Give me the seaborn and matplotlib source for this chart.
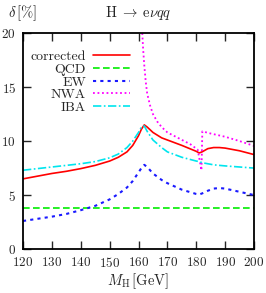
import seaborn as sns
import matplotlib.pyplot as plt

# valores
mh = [120, 125, 130, 135, 140, 145, 150, 153, 156, 158, 160, 161, 162, 163,
      165, 168, 170, 175, 180, 181, 182, 184, 186, 188, 190, 195, 200]
corrected = [6.5, 6.75, 7.0, 7.2, 7.45, 7.75, 8.15, 8.5, 9.0, 9.6, 10.5, 11.1, 11.5, 11.3,
             10.8, 10.3, 10.1, 9.6, 9.05, 8.9, 9.0, 9.3, 9.4, 9.4, 9.35, 9.1, 8.75]
qcd = [3.8] * len(mh)
ew = [2.6, 2.8, 3.0, 3.25, 3.6, 4.0, 4.6, 5.1, 5.7, 6.3, 7.1, 7.5, 7.8, 7.6,
      7.0, 6.4, 6.1, 5.5, 5.1, 5.05, 5.15, 5.4, 5.6, 5.65, 5.6, 5.3, 5.0]
iba = [7.3, 7.45, 7.6, 7.75, 7.9, 8.1, 8.45, 8.8, 9.4, 10.0, 10.8, 11.3, 11.4, 10.9,
       10.1, 9.4, 9.0, 8.5, 8.15, 8.1, 8.0, 7.9, 7.8, 7.75, 7.7, 7.6, 7.5]

mh_nwa = [161.3, 161.6, 162.0, 162.5, 163.0, 164.0, 165.0, 166.5, 168.0, 170.0,
          174.0, 178.0, 180.5, 181.8, 182.1, 185.0, 190.0, 195.0, 200.0]
nwa = [20.0, 18.5, 17.0, 15.5, 14.4, 13.3, 12.5, 11.8, 11.3, 10.8,
       10.25, 9.7, 9.2, 7.3, 10.9, 10.7, 10.4, 10.0, 9.55]

sns.set_style('ticks')
plt.rcParams['font.family'] = ['cmr10', 'DejaVu Serif']
plt.rcParams['mathtext.fontset'] = 'cm'
plt.rcParams['axes.formatter.use_mathtext'] = True

fig = plt.figure(figsize=(2.66, 2.93), dpi=100)
ax = fig.add_axes([0.0865, 0.150, 0.8685, 0.737])

sns.lineplot(x=mh, y=corrected, color='red', lw=1.2, label='corrected', ax=ax)
sns.lineplot(x=mh, y=qcd, color='#00ee00', lw=1.2, linestyle=(0, (4, 2)), label='QCD', ax=ax)
sns.lineplot(x=mh, y=ew, color='#1a1aff', lw=1.5, linestyle=(0, (1.5, 2)), label='EW', ax=ax)
sns.lineplot(x=mh_nwa, y=nwa, color='#ff00ff', lw=1.3, linestyle=(0, (1, 1.5)), label='NWA',
             sort=False, ax=ax)
sns.lineplot(x=mh, y=iba, color='#00e5ee', lw=1.2, linestyle=(0, (5, 1.5, 1, 1.5)), label='IBA', ax=ax)

ax.set_xlim(120, 200)
ax.set_ylim(0, 20)
ax.set_xticks(range(120, 201, 10))
ax.set_yticks([0, 5, 10, 15, 20])
ax.tick_params(direction='in', length=6, width=1, top=True, right=True, labelsize=9.5, pad=5)
for s in ax.spines.values():
    s.set_linewidth(1.3)
    s.set_color('black')

ax.set_xlabel(r'$M_\mathrm{H}\,[\mathrm{GeV}]$', fontsize=10.5, labelpad=1)
ax.set_ylabel('')
fig.text(0.03, 0.955, r'$\delta\,[\%]$', fontsize=10.5, va='center')
fig.text(0.52, 0.955, r'$\mathrm{H}\;\rightarrow\;\mathrm{e}\nu qq$', fontsize=10.5, ha='center', va='center')

ax.legend(loc='upper left', frameon=False, markerfirst=False, fontsize=10,
          handlelength=2.7, labelspacing=0.0, borderaxespad=0.3, handletextpad=0.5,
          bbox_to_anchor=(-0.01, 0.965))

fig.savefig('out.png', dpi=100)
